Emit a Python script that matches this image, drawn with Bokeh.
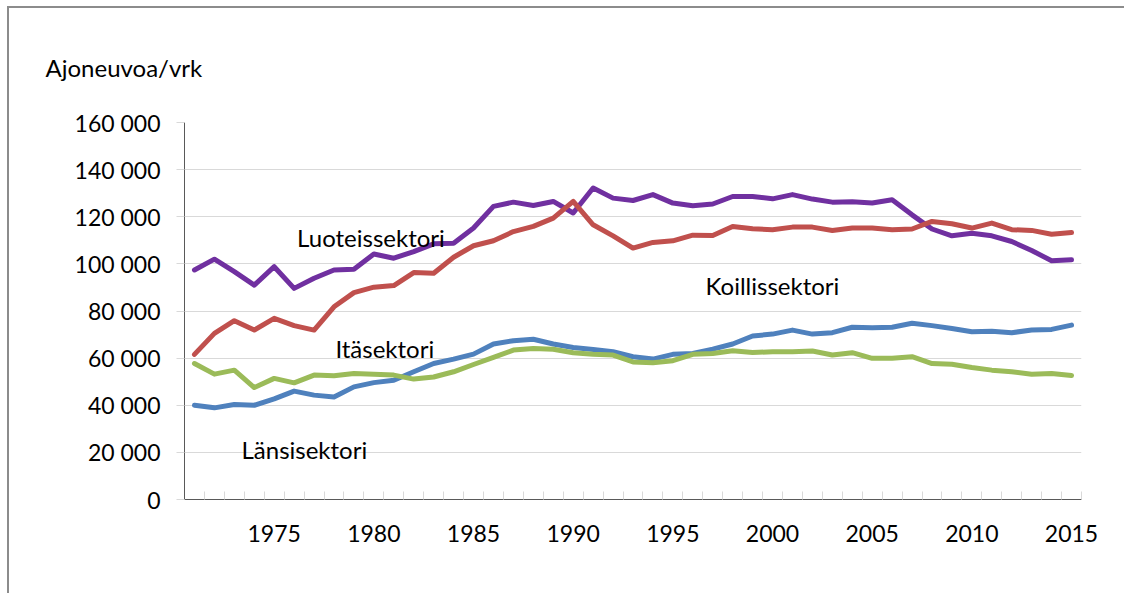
from bokeh.plotting import figure
from bokeh.models import Range1d, FixedTicker, Label
from bokeh.layouts import column
from bokeh.embed import file_html
from bokeh.resources import INLINE

years = list(range(1971, 2016))

luoteissektori = [97400, 102000, 96700, 91000, 98800, 89600, 93900, 97400, 97700, 104200,
                  102400, 105200, 108500, 108800, 115200, 124400, 126200, 124800, 126500, 121600,
                  132200, 127900, 126900, 129400, 125800, 124700, 125400, 128600, 128600, 127600,
                  129400, 127500, 126200, 126400, 125800, 127200, 120800, 114800, 111900, 113000,
                  111900, 109500, 105700, 101300, 101700]

koillissektori = [61600, 70500, 75900, 71900, 76900, 73800, 71900, 81800, 87800, 90100,
                  90800, 96300, 96000, 102800, 107700, 109800, 113700, 115900, 119400, 126500,
                  116600, 111900, 106700, 109100, 109800, 112200, 112000, 115900, 114900, 114500,
                  115600, 115600, 114200, 115200, 115200, 114500, 114800, 118000, 117000, 115200,
                  117300, 114500, 114200, 112600, 113300]

lansisektori = [40000, 38900, 40300, 40000, 42700, 46000, 44300, 43500, 47800, 49600,
                50600, 54200, 57700, 59600, 61700, 66000, 67400, 68000, 66000, 64500,
                63700, 62700, 60600, 59600, 61600, 62000, 63800, 66000, 69400, 70200,
                71900, 70200, 70800, 73100, 72900, 73100, 74800, 73800, 72600, 71200,
                71400, 70800, 71900, 72200, 74000]

itasektori = [57700, 53200, 54900, 47500, 51400, 49500, 52800, 52500, 53500, 53200,
              52800, 51100, 52000, 54200, 57300, 60300, 63400, 64100, 63800, 62300,
              61600, 61300, 58400, 58000, 58900, 61600, 62000, 63100, 62400, 62700,
              62700, 63000, 61300, 62300, 59900, 59900, 60600, 57700, 57400, 56000,
              54900, 54200, 53200, 53500, 52600]

y_ticks = [0, 20000, 40000, 60000, 80000, 100000, 120000, 140000, 160000]
y_tick_labels = ["0", "20 000", "40 000", "60 000", "80 000", "100 000", "120 000", "140 000", "160 000"]
x_label_years = [1975, 1980, 1985, 1990, 1995, 2000, 2005, 2010, 2015]

FONT = "Lato"
FS = "23px"
LFS = "24px"
GRID = "#d9d9d9"

p = figure(width=1115, height=585, output_backend="svg", toolbar_location=None,
           x_range=Range1d(1970.5, 2015.5), y_range=Range1d(0, 160000),
           min_border_left=175, min_border_right=43, min_border_top=114, min_border_bottom=94,
           title="Ajoneuvoa/vrk")
p.outline_line_color = None
p.background_fill_color = "white"
p.border_fill_color = "white"

p.title.text_font = FONT
p.title.text_font_size = LFS
p.title.text_font_style = "normal"
p.title.text_color = "black"
p.title.align = "left"
p.title.offset = -139
p.title.standoff = 82

# grid
p.xgrid.grid_line_color = None
p.ygrid.grid_line_color = GRID
p.ygrid.grid_line_width = 1

# y axis
p.yaxis.ticker = FixedTicker(ticks=y_ticks)
p.yaxis.major_label_overrides = {t: l for t, l in zip(y_ticks, y_tick_labels)}
p.yaxis.axis_line_color = "#595959"
p.yaxis.major_tick_out = 8
p.yaxis.major_tick_in = 0
p.yaxis.major_tick_line_color = GRID
p.yaxis.minor_tick_line_color = None
p.yaxis.major_label_standoff = 16
p.yaxis.major_label_text_font = FONT
p.yaxis.major_label_text_font_size = FS
p.yaxis.major_label_text_color = "black"

# x axis
boundaries = [y - 0.5 for y in years] + [years[-1] + 0.5]
p.xaxis.ticker = FixedTicker(ticks=x_label_years, minor_ticks=boundaries)
p.xaxis.axis_line_color = "#595959"
p.xaxis.major_tick_line_color = None
p.xaxis.major_tick_out = 0
p.xaxis.major_tick_in = 0
p.xaxis.minor_tick_in = 8
p.xaxis.minor_tick_out = 0
p.xaxis.minor_tick_line_color = GRID
p.xaxis.major_label_standoff = 25
p.xaxis.major_label_text_font = FONT
p.xaxis.major_label_text_font_size = FS
p.xaxis.major_label_text_color = "black"

series = [
    (luoteissektori, "#7030A0"),
    (koillissektori, "#C0504D"),
    (lansisektori, "#4F81BD"),
    (itasektori, "#9BBB59"),
]
for vals, col in series:
    p.line(years, vals, line_color=col, line_width=5, line_join="round", line_cap="round")

labels = [
    ("Luoteissektori", 1976.15, 111200),
    ("Koillissektori", 1996.64, 90800),
    ("Itäsektori", 1978.07, 64100),
    ("Länsisektori", 1973.36, 21300),
]
for txt, lx, ly in labels:
    p.add_layout(Label(x=lx, y=ly, text=txt, text_font=FONT, text_font_size=LFS,
                       text_color="black", text_baseline="alphabetic", text_align="left"))

layout = column(p, styles={"border-left": "2px solid #8c8c8c", "border-top": "2px solid #8c8c8c",
                           "margin-left": "7px", "margin-top": "6px"})

open("out.html", "w").write(file_html(layout, INLINE))
